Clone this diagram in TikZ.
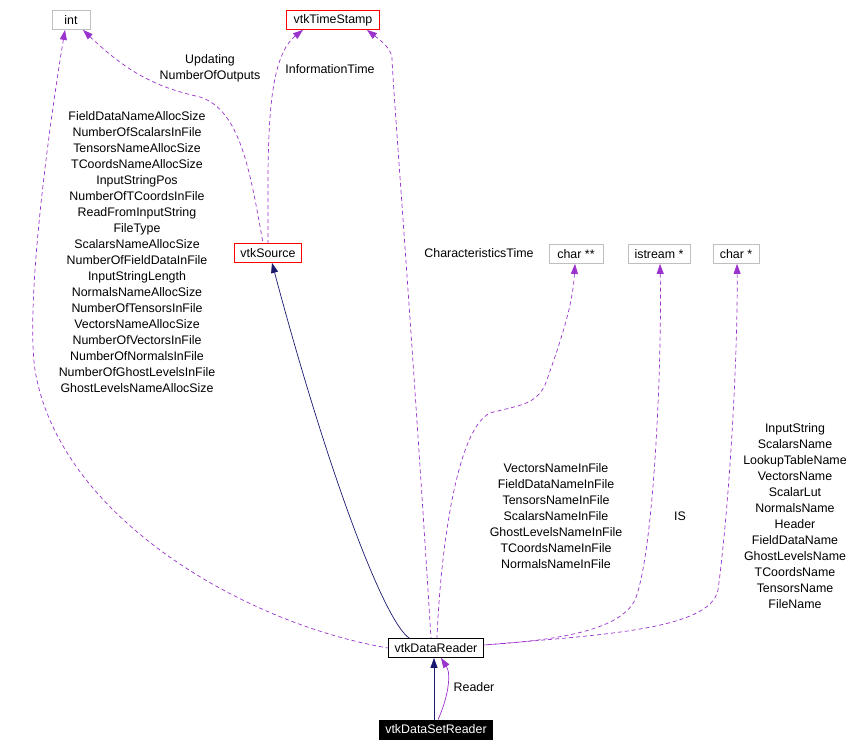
\documentclass[tikz,border=0pt]{standalone}
\usepackage{fontspec}
\setmainfont{Liberation Sans}
\usepackage{xcolor}
\usepackage{tikz}
\usetikzlibrary{arrows.meta,positioning,calc}
\definecolor{usagePurple}{RGB}{154,50,205}
\definecolor{inheritNavy}{RGB}{25,25,112}
\definecolor{boxGray}{RGB}{191,191,191}
\definecolor{boxRed}{RGB}{255,0,0}
\tikzset{
  classbox/.style={
    rectangle, draw=black, fill=white, inner xsep=6pt, inner ysep=0pt, line width=0.8pt,
    minimum height=19pt, font=\fontsize{12.4}{16}\selectfont
  },
  plainbox/.style={classbox, draw=boxGray},
  labelText/.style={align=center, inner sep=0pt, font=\fontsize{12.4}{16}\selectfont},
  usageArrow/.style={{Triangle[length=10pt,width=7pt]}-, color=usagePurple, line width=0.7pt,
    dash pattern=on 4pt off 3pt},
  inheritArrow/.style={{Triangle[length=10pt,width=7pt]}-, color=inheritNavy, line width=0.7pt}
}

\begin{document}
\begin{tikzpicture}[x=1pt, y=-1pt]
        \useasboundingbox (0,0) rectangle (856,752);
        % classes
        \node[plainbox, minimum width=38pt] (int) at (71,20) {int};
        \node[classbox, draw=boxRed, minimum width=93pt] (stamp) at (333,20) {vtkTimeStamp};
        \node[classbox, draw=boxRed, minimum width=66pt] (source) at (268,253) {vtkSource};
        \node[plainbox, minimum width=54pt] (charpp) at (576,254) {char **};
        \node[plainbox, minimum width=62pt] (istream) at (659,254) {istream *};
        \node[plainbox, minimum width=46pt] (charp) at (736,254) {char *};
        \node[classbox, minimum width=94pt] (reader) at (436,648) {vtkDataReader};
        \node[classbox, fill=black, text=white, minimum width=111pt] (dsreader)
          at (436,729.5) {vtkDataSetReader};

        % member lists
        \node[labelText] (intlbl) at (137,252)
          {FieldDataNameAllocSize\\NumberOfScalarsInFile\\TensorsNameAllocSize\\
           TCoordsNameAllocSize\\InputStringPos\\NumberOfTCoordsInFile\\
           ReadFromInputString\\FileType\\ScalarsNameAllocSize\\
           NumberOfFieldDataInFile\\InputStringLength\\NormalsNameAllocSize\\
           NumberOfTensorsInFile\\VectorsNameAllocSize\\NumberOfVectorsInFile\\
           NumberOfNormalsInFile\\NumberOfGhostLevelsInFile\\GhostLevelsNameAllocSize};
        \node[labelText] (srclbl) at (210,68) {Updating\\NumberOfOutputs};
        \node[labelText] (infolbl) at (330,69) {InformationTime};
        \node[labelText] (charlbl) at (479,253) {CharacteristicsTime};
        \node[labelText] (charpplbl) at (556,516)
          {VectorsNameInFile\\FieldDataNameInFile\\TensorsNameInFile\\
           ScalarsNameInFile\\GhostLevelsNameInFile\\TCoordsNameInFile\\
           NormalsNameInFile};
        \node[labelText] (islbl) at (680,516) {IS};
        \node[labelText] (charplbl) at (795,516)
          {InputString\\ScalarsName\\LookupTableName\\VectorsName\\ScalarLut\\
           NormalsName\\Header\\FieldDataName\\GhostLevelsName\\TCoordsName\\
           TensorsName\\FileName};
        \node[labelText] (rdlbl) at (474,687) {Reader};

        % inheritance
        \draw[inheritArrow] (source.south -| 272,0) .. controls (330,480) and (385,622) .. ($(reader.north west)+(21,0)$);
        \draw[inheritArrow] (reader.south -| 434,0) -- (dsreader.north -| 434,0);

        % usage
        \draw[usageArrow] (int.south -| 65,0) .. controls (50,120) and (25,300) .. (35,370)
          .. controls (60,520) and (250,625) .. (reader.west);
        \draw[usageArrow] (int.south -| 83,0) .. controls (130,75) and (160,88) .. (200,97)
          .. controls (240,110) and (250,170) .. (source.north -| 263,0);
        \draw[usageArrow] (stamp.south -| 303,0) .. controls (265,60) and (268,150) .. (source.north -| 268,0);
        \draw[usageArrow] (stamp.south -| 367,0) .. controls (380,40) and (391,48) .. (392,58)
          .. controls (393,90) and (410,300) .. (reader.north -| 431,0);
        \draw[usageArrow] (charpp.south -| 575,0) .. controls (573,300) and (565,330) .. (545,385)
          .. controls (535,405) and (520,405) .. (490,413)
          .. controls (455,430) and (440,560) .. (reader.north -| 437,0);
        \draw[usageArrow] (istream.south -| 660,0) .. controls (662,350) and (655,550) .. (635,600)
          .. controls (620,630) and (560,640) .. ($(reader.east)+(0,-3)$);
        \draw[usageArrow] (charp.south -| 737,0) .. controls (738,350) and (730,500) .. (718,590)
          .. controls (710,630) and (600,635) .. ($(reader.east)+(0,-3)$);
        \draw[usageArrow, solid] (reader.south -| 441,0) .. controls (452,675) and (447,700) .. (dsreader.north -| 438,0);
      \end{tikzpicture}
\end{document}
